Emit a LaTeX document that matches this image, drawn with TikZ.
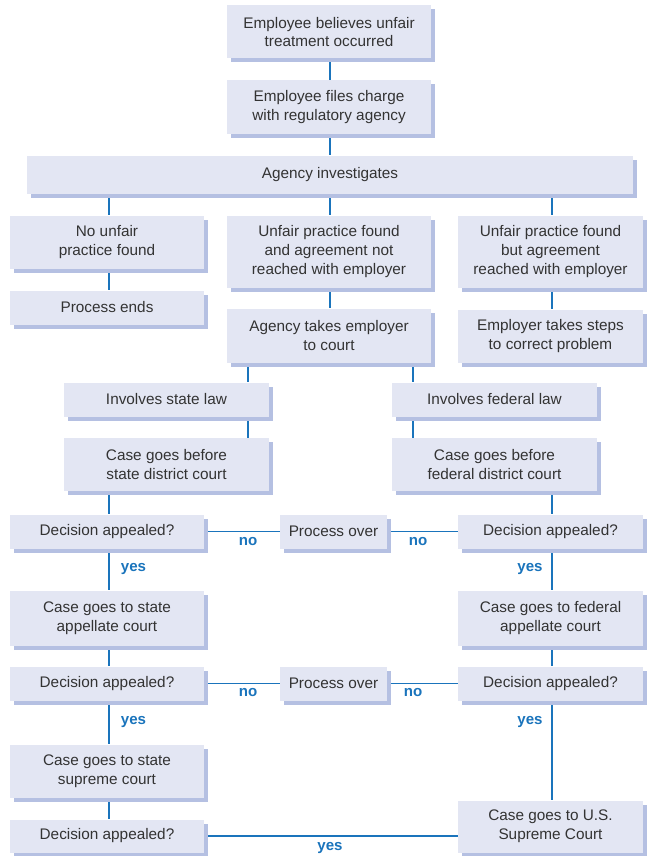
\documentclass[tikz,border=0pt]{standalone}
\usepackage{fontspec}
\setmainfont{Liberation Sans}
\usetikzlibrary{shadows,backgrounds}
\definecolor{boxfill}{HTML}{E3E6F3}
\definecolor{boxshadow}{HTML}{B5C0E2}
\definecolor{linkblue}{HTML}{1A74BC}
\definecolor{textgray}{HTML}{333333}
\begin{document}
\begin{tikzpicture}[x=0.75pt,y=-0.75pt,
  stepbox/.style={fill=boxfill, inner sep=0pt, align=center, text=textgray,
    font=\fontsize{11.5}{14.2}\selectfont,
    drop shadow={shadow xshift=3pt, shadow yshift=-3pt, fill=boxshadow, opacity=1}},
  link/.style={draw=linkblue, line width=1.4pt},
  lbl/.style={text=linkblue, font=\fontsize{11.3}{13}\selectfont\bfseries, inner sep=0pt}]
\useasboundingbox (0,0) rectangle (647,856);
\node[stepbox, minimum width=204*0.75pt, minimum height=53*0.75pt] (n1) at (329,32) {Employee believes unfair\\treatment occurred};
\node[stepbox, minimum width=204*0.75pt, minimum height=53*0.75pt] (n2) at (329,107) {Employee files charge\\with regulatory agency};
\node[stepbox, minimum width=606*0.75pt, minimum height=38*0.75pt] (n3) at (330,174.5) {Agency investigates};
\node[stepbox, minimum width=194*0.75pt, minimum height=53*0.75pt] (n4) at (107,242) {No unfair\\practice found};
\node[stepbox, minimum width=194*0.75pt, minimum height=34*0.75pt] (n5) at (107,307.5) {Process ends};
\node[stepbox, minimum width=204*0.75pt, minimum height=72*0.75pt] (n6) at (329,251.5) {Unfair practice found\\and agreement not\\reached with employer};
\node[stepbox, minimum width=185*0.75pt, minimum height=72*0.75pt] (n7) at (550.5,251.5) {Unfair practice found\\but agreement\\reached with employer};
\node[stepbox, minimum width=204*0.75pt, minimum height=54*0.75pt] (n8) at (329,335.5) {Agency takes employer\\to court};
\node[stepbox, minimum width=185*0.75pt, minimum height=53*0.75pt] (n9) at (550.5,336) {Employer takes steps\\to correct problem};
\node[stepbox, minimum width=205*0.75pt, minimum height=34*0.75pt] (n10) at (166.5,399.5) {Involves state law};
\node[stepbox, minimum width=205*0.75pt, minimum height=34*0.75pt] (n11) at (494.5,399.5) {Involves federal law};
\node[stepbox, minimum width=205*0.75pt, minimum height=53*0.75pt] (n12) at (166.5,464.5) {Case goes before\\state district court};
\node[stepbox, minimum width=205*0.75pt, minimum height=53*0.75pt] (n13) at (494.5,464.5) {Case goes before\\federal district court};
\node[stepbox, minimum width=194*0.75pt, minimum height=34*0.75pt] (n14) at (107,531.5) {Decision appealed?};
\node[stepbox, minimum width=107*0.75pt, minimum height=34*0.75pt] (n15) at (333.5,531.5) {Process over};
\node[stepbox, minimum width=185*0.75pt, minimum height=34*0.75pt] (n16) at (550.5,531.5) {Decision appealed?};
\node[stepbox, minimum width=194*0.75pt, minimum height=55*0.75pt] (n17) at (107,618) {Case goes to state\\appellate court};
\node[stepbox, minimum width=185*0.75pt, minimum height=55*0.75pt] (n18) at (550.5,618) {Case goes to federal\\appellate court};
\node[stepbox, minimum width=194*0.75pt, minimum height=34*0.75pt] (n19) at (107,683.5) {Decision appealed?};
\node[stepbox, minimum width=107*0.75pt, minimum height=34*0.75pt] (n20) at (333.5,683.5) {Process over};
\node[stepbox, minimum width=185*0.75pt, minimum height=34*0.75pt] (n21) at (550.5,683.5) {Decision appealed?};
\node[stepbox, minimum width=194*0.75pt, minimum height=53*0.75pt] (n22) at (107,771) {Case goes to state\\supreme court};
\node[stepbox, minimum width=194*0.75pt, minimum height=33*0.75pt] (n23) at (107,836) {Decision appealed?};
\node[stepbox, minimum width=185*0.75pt, minimum height=52*0.75pt] (n24) at (550.5,826.5) {Case goes to U.S.\\Supreme Court};
% labels
\node[lbl] (y1) at (133.5,569) {yes};
\node[lbl] (y2) at (530,569) {yes};
\node[lbl] (y3) at (133.5,722) {yes};
\node[lbl] (y4) at (530,722) {yes};
\node[lbl] (y5) at (330,848) {yes};
\node[lbl] (no1) at (248,542) {no};
\node[lbl] (no2) at (418,542) {no};
\node[lbl] (no3) at (248,693) {no};
\node[lbl] (no4) at (413,693) {no};
% columns
\coordinate (cM) at (330,0);
\coordinate (cL) at (109,0);
\coordinate (cR) at (552,0);
\coordinate (cSL) at (248,0);
\coordinate (cFL) at (413,0);
\begin{scope}[on background layer]
\fill[white] (0,0) rectangle (647,856);
\draw[link] (n1.south -| cM) -- (n2.north -| cM);
\draw[link] (n2.south -| cM) -- (n3.north -| cM);
\draw[link] (n3.south -| cL) -- (n4.north -| cL);
\draw[link] (n3.south -| cM) -- (n6.north -| cM);
\draw[link] (n3.south -| cR) -- (n7.north -| cR);
\draw[link] (n4.south -| cL) -- (n5.north -| cL);
\draw[link] (n6.south -| cM) -- (n8.north -| cM);
\draw[link] (n7.south -| cR) -- (n9.north -| cR);
\draw[link] (n8.south -| cSL) -- (n10.north -| cSL);
\draw[link] (n8.south -| cFL) -- (n11.north -| cFL);
\draw[link] (n10.south -| cSL) -- (n12.north -| cSL);
\draw[link] (n11.south -| cFL) -- (n13.north -| cFL);
\draw[link] (n12.south -| cL) -- (n14.north -| cL);
\draw[link] (n13.south -| cR) -- (n16.north -| cR);
\draw[link] (n14.east) -- (n15.west);
\draw[link] (n16.west) -- (n15.east);
\draw[link] (n14.south -| cL) -- (n17.north -| cL);
\draw[link] (n16.south -| cR) -- (n18.north -| cR);
\draw[link] (n17.south -| cL) -- (n19.north -| cL);
\draw[link] (n18.south -| cR) -- (n21.north -| cR);
\draw[link] (n19.east) -- (n20.west);
\draw[link] (n21.west) -- (n20.east);
\draw[link] (n19.south -| cL) -- (n22.north -| cL);
\draw[link] (n21.south -| cR) -- (n24.north -| cR);
\draw[link] (n22.south -| cL) -- (n23.north -| cL);
\draw[link] (n23.east) -- (n24.west |- n23.east);
\end{scope}
\end{tikzpicture}
\end{document}
